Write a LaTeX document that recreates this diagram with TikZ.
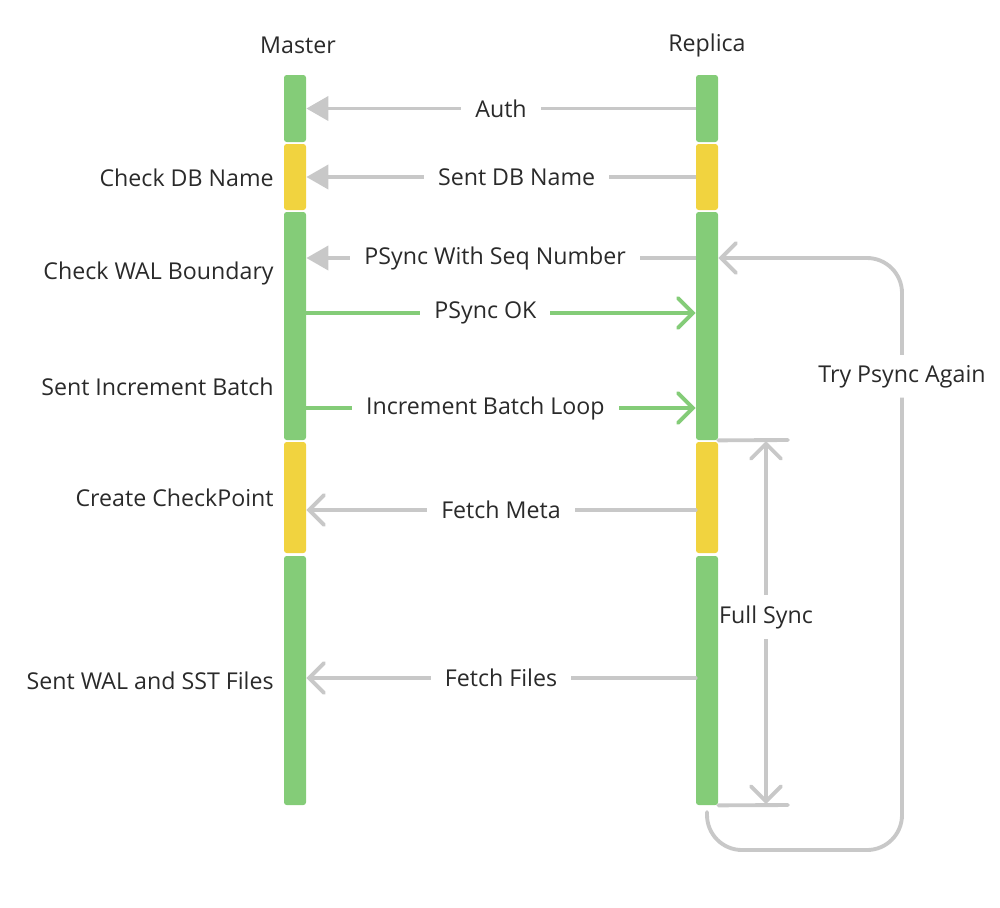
\documentclass[tikz,border=0pt]{standalone}
\usepackage{fontspec}
\setmainfont{Open Sans}
\usetikzlibrary{arrows.meta}
\definecolor{barGreen}{HTML}{84CC78}
\definecolor{barYellow}{HTML}{F1D33F}
\definecolor{lineGray}{HTML}{C8C8C8}
\definecolor{textDark}{HTML}{2A2A2A}
\tikzset{
  seg/.style={rectangle,rounded corners=1.5pt,minimum width=0.44cm,inner sep=0pt},
  lbl/.style={font=\fontsize{13.2}{15}\selectfont,text=textDark},
  step lbl/.style={lbl,anchor=east,inner sep=0pt},
  cut/.style={lbl,fill=white,inner xsep=0.28cm,inner ysep=1pt},
  pull/.style={lineGray,line width=2.2pt,-{Triangle[length=0.44cm,width=0.48cm]}},
  fetch/.style={lineGray,line width=2.2pt,line cap=round,
    -{Straight Barb[length=0.3cm,width=0.6cm,line cap=round]}},
  push/.style={barGreen,line width=2.2pt,line cap=round,
    -{Straight Barb[length=0.3cm,width=0.6cm,line cap=round]}},
}

\begin{document}
\begin{tikzpicture}[x=0.02cm,y=-0.02cm]
\useasboundingbox (0,0) rectangle (1000,907);

% Headers.
\node[lbl] (master) at (298,45) {Master};
\node[lbl] (replica) at (707,45) {Replica};

% Lifeline segments, same split on both sides.
\foreach \i/\top/\bot/\col in {1/75/142/barGreen,2/144/210/barYellow,
    3/212/440/barGreen,4/442/553/barYellow,5/556/805/barGreen} {
  \node[seg,fill=\col,minimum height={(\bot-\top)*0.02cm}] (m\i) at (295,{(\top+\bot)/2}) {};
  \node[seg,fill=\col,minimum height={(\bot-\top)*0.02cm}] (r\i) at (707,{(\top+\bot)/2}) {};
}

% Master side steps.
\node[step lbl] (dbname) at (274,178) {Check DB Name};
\node[step lbl] (walbound) at (274,273) {Check WAL Boundary};
\node[step lbl] (incbatch) at (274,387) {Sent Increment Batch};
\node[step lbl] (ckpt) at (274,498) {Create CheckPoint};
\node[step lbl] (walsst) at (274,681) {Sent WAL and SST Files};

% Handshake messages.
\draw[pull] (r1.west) -- node[cut,pos=0.50] {Auth} (m1.east);
\draw[pull] (r2.west) -- node[cut,pos=0.46] {Sent DB Name} (m2.east);
\draw[pull] (r3.west |- 0,258) -- node[cut,pos=0.515] {PSync With Seq Number} (m3.east |- 0,258);

% Incremental path.
\draw[push] (m3.east |- 0,313) -- node[cut,pos=0.46] {PSync OK} (r3.west |- 0,313);
\draw[push] (m3.east |- 0,408) -- node[cut,pos=0.46] {Increment Batch Loop} (r3.west |- 0,408);

% Full sync path.
\draw[fetch] (r4.west |- 0,510) -- node[cut,pos=0.50] {Fetch Meta} (m4.east |- 0,510);
\draw[fetch] (r5.west |- 0,678) -- node[cut,pos=0.50] {Fetch Files} (m5.east |- 0,678);

% Full sync span.
\coordinate (fsTop) at (788,440);
\coordinate (fsBot) at (788,805);
\draw[lineGray,line width=2.2pt,line cap=round] (r3.south east) -- (fsTop);
\draw[lineGray,line width=2.2pt,line cap=round] (r5.south east) -- (fsBot);
\draw[lineGray,line width=2.2pt,line cap=round,
  {Straight Barb[length=0.3cm,width=0.6cm,line cap=round]}-{Straight Barb[length=0.3cm,width=0.6cm,line cap=round]}]
  (766,441) -- node[lbl,fill=white,inner xsep=0pt,inner ysep=0.2cm,pos=0.485] (fullsync) {Full Sync} (766,804);

% Retry loop back to PSync.
\coordinate (loopStart) at (707,812);
\draw[fetch,rounded corners=0.7cm] (loopStart) -- (707,850) -- (902,850)
  -- node[cut,pos=0.80,inner xsep=2pt,inner ysep=0.2cm] (retry) {Try Psync Again} (902,258)
  -- (r3.east |- 0,258);

\end{tikzpicture}
\end{document}
